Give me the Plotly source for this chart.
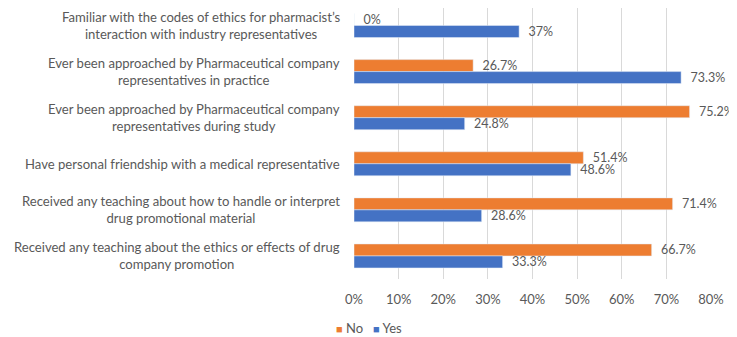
import plotly.graph_objects as go

categories = [
    "Familiar with the codes of ethics for pharmacist’s<br>interaction with industry representatives",
    "Ever been approached by Pharmaceutical company<br>representatives in practice",
    "Ever been approached by Pharmaceutical company<br>representatives during study",
    "Have personal friendship with a medical representative",
    "Received any teaching about how to handle or interpret<br>drug promotional material",
    "Received any teaching about the ethics or effects of drug<br>company promotion",
]
no_values = [0, 26.7, 75.2, 51.4, 71.4, 66.7]
yes_values = [37, 73.3, 24.8, 48.6, 28.6, 33.3]
x_ticks = [0, 10, 20, 30, 40, 50, 60, 70, 80]
series_names = ["No", "Yes"]
series_colors = ["#ED7D31", "#4472C4"]

FONT = "Lato"
GREY = "#595959"

def labels(vals):
    return [f"  {v:g}%" for v in vals]

fig = go.Figure()
for name, vals, col in zip(series_names, [no_values, yes_values], series_colors):
    fig.add_trace(go.Bar(
        y=categories, x=[v / 100 for v in vals], name=name, orientation="h",
        marker_color=col, text=labels(vals), textposition="outside",
        constraintext="none",
        textfont=dict(family=FONT, size=12.5, color=GREY), cliponaxis=False,
    ))

for c in categories:
    fig.add_annotation(
        x=-0.034, xref="paper", y=c, yref="y", text=c, showarrow=False,
        xanchor="right", yanchor="middle", align="center",
        font=dict(family=FONT, size=13.1, color=GREY),
    )

# legend drawn as text: coloured squares + series names
legend_text = "&nbsp;&nbsp;&nbsp;".join(
    f'<span style="color:{col};font-size:11px">■</span> {name}'
    for name, col in zip(series_names, series_colors)
)
fig.add_annotation(
    x=0.042, xref="paper", y=-0.181, yref="paper", text=legend_text, showarrow=False,
    xanchor="center", yanchor="middle", font=dict(family=FONT, size=13, color=GREY),
)

fig.update_layout(
    width=737, height=337,
    margin=dict(l=346, r=34, t=0, b=66),
    barmode="group", bargap=0.48, bargroupgap=0,
    plot_bgcolor="white", paper_bgcolor="white",
    font=dict(family=FONT, size=13, color=GREY),
    showlegend=False,
    xaxis=dict(range=[0, 0.8], tickvals=[t / 100 for t in x_ticks],
               ticktext=[f"{t}%" for t in x_ticks], showgrid=True, gridcolor="#D9D9D9",
               gridwidth=1, zeroline=False, showline=False,
               tickfont=dict(family=FONT, size=13, color=GREY), ticks="",
               ticklabelstandoff=11),
    yaxis=dict(range=[5.5, -0.38], showticklabels=False, showgrid=False, zeroline=False,
               showline=False, ticks=""),
)

fig.write_html("out.html")
